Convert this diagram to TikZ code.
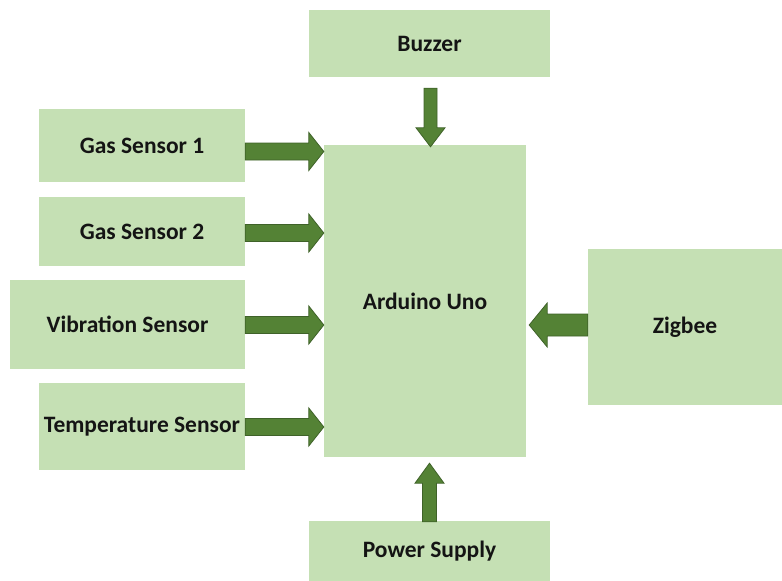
\documentclass[tikz,border=0pt]{standalone}
\usepackage{fontspec}
\setmainfont{Carlito}
\usetikzlibrary{calc}
\definecolor{boxgreen}{HTML}{C5E0B4}
\definecolor{arrfill}{HTML}{548235}
\definecolor{arrline}{HTML}{3F6229}
% block arrow: #1 start, #2 tip, #3 half shaft width, #4 half head width, #5 head length
\newcommand{\blockarr}[5]{%
  \draw[barrow] let \p1=(#1), \p2=(#2), \n1={veclen(\x2-\x1,\y2-\y1)},
      \n2={(\x2-\x1)/\n1}, \n3={(\y2-\y1)/\n1} in
    ({\x1-(\n3)*#3},{\y1+(\n2)*#3})
    -- ({\x2-(\n2)*#5-(\n3)*#3},{\y2-(\n3)*#5+(\n2)*#3})
    -- ({\x2-(\n2)*#5-(\n3)*#4},{\y2-(\n3)*#5+(\n2)*#4})
    -- (\x2,\y2)
    -- ({\x2-(\n2)*#5+(\n3)*#4},{\y2-(\n3)*#5-(\n2)*#4})
    -- ({\x2-(\n2)*#5+(\n3)*#3},{\y2-(\n3)*#5-(\n2)*#3})
    -- ({\x1+(\n3)*#3},{\y1-(\n2)*#3}) -- cycle;}
\begin{document}
\begin{tikzpicture}[x=1pt,y=-1pt,
  blk/.style={fill=boxgreen, draw=none, inner sep=0pt,
    font=\fontsize{23.5}{27}\selectfont\bfseries, text={black!92}},
  barrow/.style={fill=arrfill, draw=arrline, line width=0.8pt, line join=miter}]
\useasboundingbox (0,0) rectangle (782,581);
\node[blk, minimum width=241pt, minimum height=67pt] (bz) at (429.5,43.5) {Buzzer};
\node[blk, minimum width=206pt, minimum height=73pt] (g1) at (142,145.5) {Gas Sensor 1};
\node[blk, minimum width=206pt, minimum height=69pt] (g2) at (142,231.5) {Gas Sensor 2};
\node[blk, minimum width=235pt, minimum height=89pt] (vb) at (127.5,324.5) {Vibration Sensor};
\node[blk, minimum width=206pt, minimum height=87pt] (tp) at (142,426.5) {Temperature Sensor};
\node[blk, minimum width=202pt, minimum height=312pt] (ard) at (425,301) {Arduino Uno};
\node[blk, minimum width=194pt, minimum height=156pt] (zg) at (685,327) {Zigbee};
\node[blk, minimum width=241pt, minimum height=60pt] (pw) at (429.5,551) {Power Supply};
% arrows
\blockarr{$(g1.east)+(0,6)$}{$(g1.east -| ard.west)+(0,6)$}{8.5}{19}{15}
\blockarr{$(g2.east)+(0,1.5)$}{$(g2.east -| ard.west)+(0,1.5)$}{8.5}{19}{15}
\blockarr{$(vb.east)+(0,0.5)$}{$(vb.east -| ard.west)+(0,0.5)$}{8.5}{19}{15}
\blockarr{$(tp.east)+(0,0.5)$}{$(tp.east -| ard.west)+(0,0.5)$}{8.5}{19}{15}
\blockarr{$(bz.south)+(1,11)$}{$(bz.south |- ard.north)+(1,2)$}{6.5}{14.5}{19}
\blockarr{$(pw.north)+(0,1)$}{$(pw.north |- ard.south)+(0,6)$}{7}{14.5}{20}
\blockarr{$(zg.west)+(0,-2)$}{$(zg.west -| ard.east)+(3,-2)$}{11}{22}{18}
\end{tikzpicture}
\end{document}
